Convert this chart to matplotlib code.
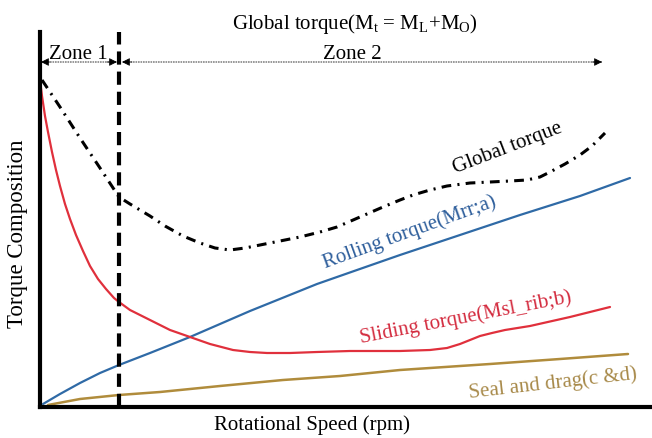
import matplotlib.pyplot as plt

plt.rcParams['font.family'] = ['Liberation Serif', 'DejaVu Serif']
plt.rcParams['mathtext.fontset'] = 'custom'
plt.rcParams['mathtext.rm'] = 'Liberation Serif'
plt.rcParams['lines.scale_dashes'] = False

# speed (arbitrary units) and torque values
global_x = [2, 20, 40, 60, 79, 90, 100, 110, 125, 143, 160, 175, 190, 205, 220, 240, 260, 280, 297,
            320, 343, 360, 373, 390, 407, 430, 450, 470, 487, 500, 510, 525, 540, 552, 565]
global_y = [327, 300, 269, 239, 210, 203, 197, 191, 181, 171, 164, 159, 157, 159, 162, 166, 170, 175, 180,
            190, 200, 207, 212, 217, 221, 224, 225, 226, 227, 230, 235, 243, 252, 261, 274]

sliding_x = [0, 2, 5, 8, 12, 16, 20, 25, 30, 36, 43, 50, 58, 66, 74, 79, 90, 100, 110, 130, 150, 170, 193,
             210, 227, 250, 277, 310, 360, 390, 407, 420, 430, 440, 452, 465, 490, 530, 570]
sliding_y = [327, 311, 291, 275, 255, 237, 221, 203, 188, 172, 156, 141, 128, 118, 109, 105, 97, 92, 87, 77,
             70, 63, 57, 55, 54, 54, 55, 56, 56, 57, 59, 63, 67, 71, 74, 77, 81, 90, 100]

rolling_x = [3, 20, 40, 60, 79, 110, 150, 210, 277, 317, 360, 420, 480, 540, 590]
rolling_y = [3, 13, 24, 34, 42, 54, 70, 96, 123, 137, 152, 172, 192, 211, 229]

seal_x = [8, 40, 79, 120, 180, 243, 300, 360, 450, 520, 588]
seal_y = [2, 8, 12, 15, 21, 27, 31, 37, 43, 48, 53]

zone_split = 79
zone_end = 562

fig = plt.figure(figsize=(6.52, 4.38), dpi=100)
ax = fig.add_axes([40 / 652, 31 / 438, 612 / 652, 375 / 438])
ax.set_xlim(0, 612)
ax.set_ylim(0, 375)

ax.plot(seal_x, seal_y, color='#b08c3c', lw=1.8, solid_capstyle='round', solid_joinstyle='round')
ax.plot(rolling_x, rolling_y, color='#2f6aa6', lw=1.6, solid_capstyle='round', solid_joinstyle='round')
ax.plot(sliding_x, sliding_y, color='#e0303c', lw=1.6, solid_capstyle='round', solid_joinstyle='round')
ax.plot(global_x, global_y, color='black', lw=2.2, dashes=(7, 4.5, 1.5, 4.5))

# zone divider
ax.plot([zone_split, zone_split], [0, 375], color='black', lw=3, dashes=(9.5, 5), clip_on=False)

# zone arrows: dotted grey shaft, black heads
ax.plot([0, zone_split - 3], [345, 345], color='#888888', lw=1.2, ls=(0, (1.2, 0.6)))
ax.plot([zone_split + 4, zone_end], [345, 345], color='#888888', lw=1.2, ls=(0, (1.2, 0.6)))
head = dict(arrowstyle='-|>', color='black', lw=0.5, mutation_scale=12, shrinkA=0, shrinkB=0)
for tip, tail in [(1, 10), (zone_split - 2, zone_split - 12), (zone_split + 3, zone_split + 13),
                  (zone_end, zone_end - 10)]:
    ax.annotate('', xy=(tip, 345), xytext=(tail, 345), arrowprops=head)
ax.text(38, 348, 'Zone 1', ha='center', va='baseline', fontsize=15)
ax.text(312, 348, 'Zone 2', ha='center', va='baseline', fontsize=15)

ax.text(315, 378, r'Global torque(M$_\mathregular{t}$ = M$_\mathregular{L}$+M$_\mathregular{O}$)',
        ha='center', va='baseline', fontsize=15)

ax.text(468, 259, 'Global torque', rotation=21, ha='center', va='center', fontsize=15, rotation_mode='anchor')
ax.text(370, 175, 'Rolling torque(Mrr;a)', rotation=20, ha='center', va='center', fontsize=15,
        color='#2f5f9c', rotation_mode='anchor')
ax.text(426, 89, 'Sliding torque(Msl_rib;b)', rotation=11, ha='center', va='center', fontsize=15,
        color='#d42d40', rotation_mode='anchor')
ax.text(513, 23, 'Seal and drag(c &d)', rotation=6.5, ha='center', va='center', fontsize=15,
        color='#a88a4a', rotation_mode='anchor')

# axis titles
fig.text(312 / 652, 13 / 438, 'Rotational Speed (rpm)', ha='center', va='center', fontsize=15)
fig.text(18 / 652, 204 / 438, 'Torque Composition', ha='center', va='center', rotation=90, fontsize=16.5)

ax.set_xticks([])
ax.set_yticks([])
for side in ['top', 'right']:
    ax.spines[side].set_visible(False)
for side in ['left', 'bottom']:
    ax.spines[side].set_linewidth(3)

fig.savefig('out.png', dpi=100)
